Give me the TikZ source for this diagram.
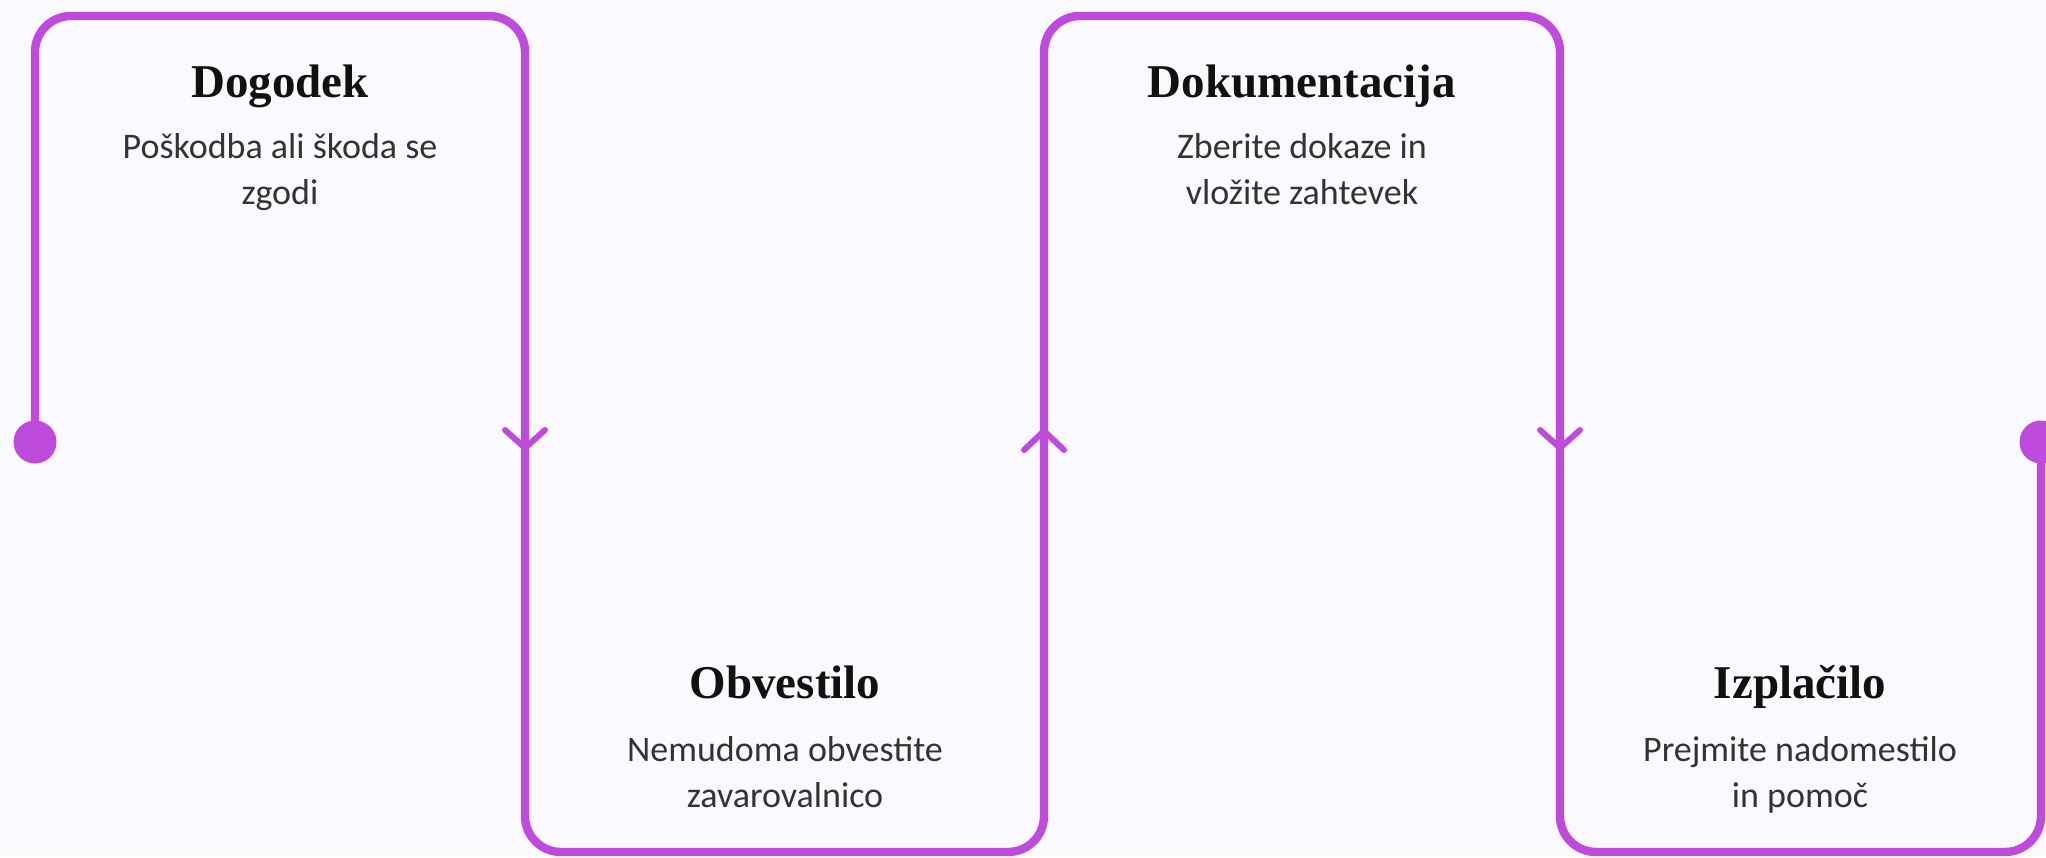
\documentclass[tikz,border=0pt]{standalone}
\usepackage{fontspec}
\setmainfont{Carlito}
\newfontfamily\headfont{Liberation Serif}
\usepackage{tikz}
\usetikzlibrary{positioning}
\usepackage{xcolor}
\definecolor{flowpurple}{HTML}{BE4BDB}
\definecolor{pagebg}{HTML}{FAF9FD}
\definecolor{headink}{HTML}{111111}
\definecolor{descink}{HTML}{333333}

\begin{document}
\begin{tikzpicture}[
    x=0.5pt, y=-0.5pt,
    steptitle/.style={anchor=base, font=\headfont\bfseries\fontsize{23.5}{28}\selectfont, text=headink, inner sep=0pt},
    stepdesc/.style={font=\fontsize{18}{23}\selectfont, text=descink, align=center, inner sep=0pt},
    flow/.style={draw=flowpurple, line width=4.2pt, rounded corners=18pt},
    chev/.style={draw=flowpurple, line width=3pt, line cap=round, line join=round},
    dot/.style={circle, fill=flowpurple, minimum size=21.5pt, inner sep=0pt}
]

% Background
\fill[pagebg] (0,0) rectangle (2046,857);
\useasboundingbox (0,0) rectangle (2046,857);

% Nodes (desc base = last line)
\node[steptitle] (event) at (280,97) {Dogodek};
\node[stepdesc, below=53.5pt of event.base, anchor=base] (eventtxt) {Poškodba ali škoda se\\zgodi};
\node[steptitle] (notice) at (785,698) {Obvestilo};
\node[stepdesc, below=54.5pt of notice.base, anchor=base] (noticetxt) {Nemudoma obvestite\\zavarovalnico};
\node[steptitle] (docs) at (1302,97) {Dokumentacija};
\node[stepdesc, below=53.5pt of docs.base, anchor=base] (docstxt) {Zberite dokaze in\\vložite zahtevek};
\node[steptitle] (payout) at (1800,698) {Izplačilo};
\node[stepdesc, below=54.5pt of payout.base, anchor=base] (payouttxt) {Prejmite nadomestilo\\in pomoč};

\node[dot] (start) at (35,442) {};
\node[dot] (finish) at (2041,442) {};

% Flow line
\draw[flow] (start.center) -- (35,16) -- (525,16) -- (525,852) -- (1044,852)
    -- (1044,16) -- (1560,16) -- (1560,852) -- (2041,852) -- (finish.center);

% Direction marks
\foreach \x/\tip/\arm in {525/448/430, 1044/431/450, 1560/448/430}
    \draw[chev] (\x-20,\arm) -- (\x,\tip) -- (\x+20,\arm);

\end{tikzpicture}
\end{document}
